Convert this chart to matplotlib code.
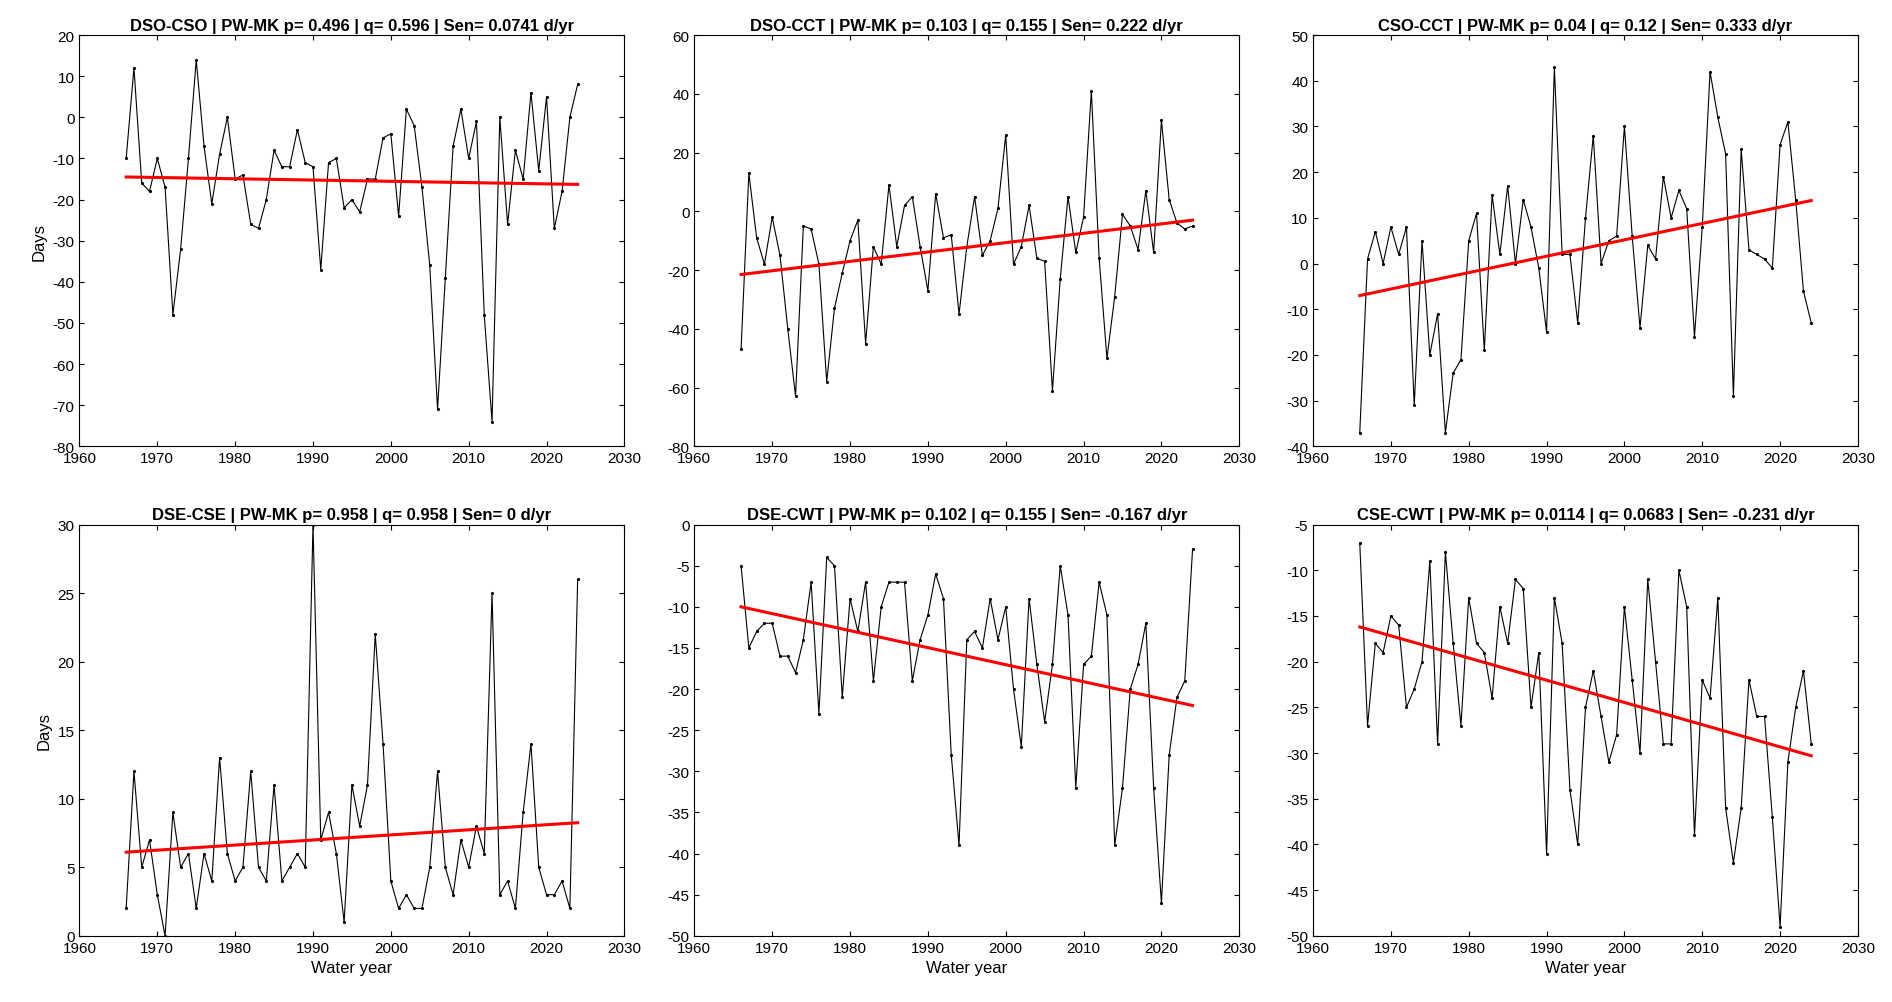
import numpy as np
import matplotlib
matplotlib.use("Agg")
import matplotlib.pyplot as plt

plt.rcParams["font.family"] = ["Liberation Sans", "DejaVu Sans"]
plt.rcParams["axes.unicode_minus"] = False

years = np.arange(1966, 2025)

dso_cso = [-10, 12, -16, -18, -10, -17, -48, -32, -10, 14, -7, -21, -9, 0, -15, -14, -26, -27, -20, -8,
           -12, -12, -3, -11, -12, -37, -11, -10, -22, -20, -23, -15, -15, -5, -4, -24, 2, -2, -17, -36,
           -71, -39, -7, 2, -10, -1, -48, -74, 0, -26, -8, -15, 6, -13, 5, -27, -18, 0, 8]
dso_cct = [-47, 13, -9, -18, -2, -15, -40, -63, -5, -6, -18, -58, -33, -21, -10, -3, -45, -12, -18, 9,
           -12, 2, 5, -12, -27, 6, -9, -8, -35, -12, 5, -15, -10, 1, 26, -18, -12, 2, -16, -17,
           -61, -23, 5, -14, -2, 41, -16, -50, -29, -1, -5, -13, 7, -14, 31, 4, -4, -6, -5]
cso_cct = [-37, 1, 7, 0, 8, 2, 8, -31, 5, -20, -11, -37, -24, -21, 5, 11, -19, 15, 2, 17,
           0, 14, 8, -1, -15, 43, 2, 2, -13, 10, 28, 0, 5, 6, 30, 6, -14, 4, 1, 19,
           10, 16, 12, -16, 8, 42, 32, 24, -29, 25, 3, 2, 1, -1, 26, 31, 14, -6, -13]
dse_cse = [2, 12, 5, 7, 3, 0, 9, 5, 6, 2, 6, 4, 13, 6, 4, 5, 12, 5, 4, 11,
           4, 5, 6, 5, 30, 7, 9, 6, 1, 11, 8, 11, 22, 14, 4, 2, 3, 2, 2, 5,
           12, 5, 3, 7, 5, 8, 6, 25, 3, 4, 2, 9, 14, 5, 3, 3, 4, 2, 26]
dse_cwt = [-5, -15, -13, -12, -12, -16, -16, -18, -14, -7, -23, -4, -5, -21, -9, -13, -7, -19, -10, -7,
           -7, -7, -19, -14, -11, -6, -9, -28, -39, -14, -13, -15, -9, -14, -10, -20, -27, -9, -17, -24,
           -17, -5, -11, -32, -17, -16, -7, -11, -39, -32, -20, -17, -12, -32, -46, -28, -21, -19, -3]
cse_cwt = [-7, -27, -18, -19, -15, -16, -25, -23, -20, -9, -29, -8, -18, -27, -13, -18, -19, -24, -14, -18,
           -11, -12, -25, -19, -41, -13, -18, -34, -40, -25, -21, -26, -31, -28, -14, -22, -30, -11, -20, -29,
           -29, -10, -14, -39, -22, -24, -13, -36, -42, -36, -22, -26, -26, -37, -49, -31, -25, -21, -29]

titles = [
    "DSO-CSO | PW-MK p= 0.496 | q= 0.596 | Sen= 0.0741 d/yr",
    "DSO-CCT | PW-MK p= 0.103 | q= 0.155 | Sen= 0.222 d/yr",
    "CSO-CCT | PW-MK p= 0.04 | q= 0.12 | Sen= 0.333 d/yr",
    "DSE-CSE | PW-MK p= 0.958 | q= 0.958 | Sen= 0 d/yr",
    "DSE-CWT | PW-MK p= 0.102 | q= 0.155 | Sen= -0.167 d/yr",
    "CSE-CWT | PW-MK p= 0.0114 | q= 0.0683 | Sen= -0.231 d/yr",
]
series = [dso_cso, dso_cct, cso_cct, dse_cse, dse_cwt, cse_cwt]
# fitted trend line values at 1966 and 2024
trend_ends = [(-14.5, -16.3), (-21.5, -3.0), (-7.0, 13.8), (6.1, 8.25), (-10.0, -22.0), (-16.2, -30.3)]
ylims = [(-80, 20, 10), (-80, 60, 20), (-40, 50, 10), (0, 30, 5), (-50, 0, 5), (-50, -5, 5)]

fig = plt.figure(figsize=(18.92, 10.03), dpi=100)
lefts = [0.042, 0.367, 0.694]
bottoms = [0.554, 0.066]
w, h = 0.288, 0.41

for i, (vals, title, te, yl) in enumerate(zip(series, titles, trend_ends, ylims)):
    r, c = divmod(i, 3)
    ax = fig.add_axes([lefts[c], bottoms[r], w, h])
    ax.plot(years, vals, color="black", lw=0.8, marker=".", ms=2.5)
    ax.plot([years[0], years[-1]], te, color="red", lw=2.2)
    ax.set_xlim(1960, 2030)
    ax.set_xticks(np.arange(1960, 2031, 10))
    ax.set_ylim(yl[0], yl[1])
    ax.set_yticks(np.arange(yl[0], yl[1] + 0.1, yl[2]))
    ax.tick_params(direction="in", top=True, right=True, labelsize=11)
    ax.set_title(title, fontsize=12, fontweight="bold", pad=4)
    if c == 0:
        ax.set_ylabel("Days", fontsize=12)
    if r == 1:
        ax.set_xlabel("Water year", fontsize=12)

fig.savefig("out.png", dpi=100)
